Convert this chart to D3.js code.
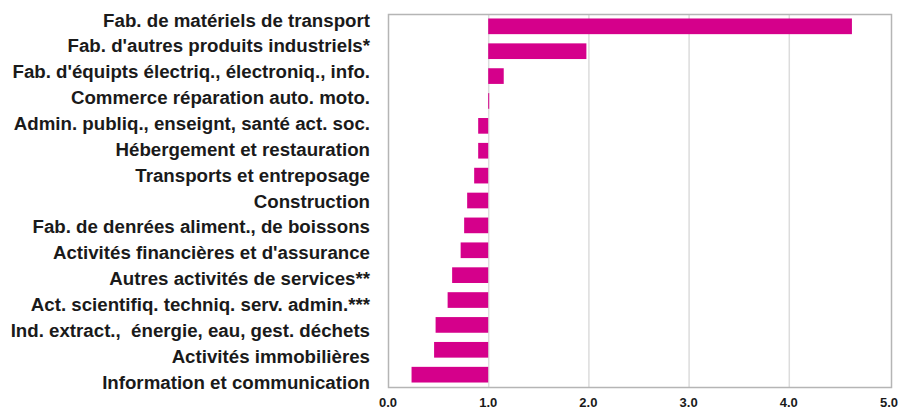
<!DOCTYPE html>
<html>
<head>
<meta charset="utf-8">
<script src="https://cdn.jsdelivr.net/npm/d3@7"></script>
<style>
  body { margin: 0; background: #fff; }
  text { font-family: "Liberation Sans", Arial, sans-serif; font-weight: bold; fill: #1a1a1a; white-space: pre; }
</style>
</head>
<body>
<svg id="chart"></svg>
<script>
let sectors = [
    "Fab. de matériels de transport",
    "Fab. d'autres produits industriels*",
    "Fab. d'équipts électriq., électroniq., info.",
    "Commerce réparation auto. moto.",
    "Admin. publiq., enseignt, santé act. soc.",
    "Hébergement et restauration",
    "Transports et entreposage",
    "Construction",
    "Fab. de denrées aliment., de boissons",
    "Activités financières et d'assurance",
    "Autres activités de services**",
    "Act. scientifiq. techniq. serv. admin.***",
    "Ind. extract.,  énergie, eau, gest. déchets",
    "Activités immobilières",
    "Information et communication"
]
let values = [4.63, 1.98, 1.155, 1.006, 0.90, 0.90, 0.86, 0.79, 0.76, 0.725, 0.64, 0.595, 0.475, 0.46, 0.235]
let ticks = [0, 1, 2, 3, 4, 5]
let baseline = 1.0

function getConfig(){
    let width = 902;
    let height = 409;
    let margin = { top: 14, bottom: 22, left: 388, right: 12 };
    let bodyWidth = width - margin.left - margin.right;
    let bodyHeight = height - margin.top - margin.bottom;
    let container = d3.select("#chart")
        .attr("width", width)
        .attr("height", height);
    return { width, height, margin, bodyWidth, bodyHeight, container };
}

function getScales(config){
    let { bodyWidth, bodyHeight } = config;
    let xScale = d3.scaleLinear()
        .domain([0, 5])
        .range([0, bodyWidth - 1]);
    let yScale = d3.scaleBand()
        .domain(sectors)
        .range([0, bodyHeight])
        .paddingInner(0.37)
        .paddingOuter(0.18);
    // labels sit on their own, slightly wider spacing (baselines)
    let labelScale = d3.scalePoint()
        .domain(sectors)
        .range([12.5, 374.5]);
    return { xScale, yScale, labelScale };
}

function drawChart(config, scales){
    let { margin, bodyWidth, bodyHeight, container } = config;
    let { xScale, yScale, labelScale } = scales;
    let body = container.append("g")
        .attr("transform", "translate(" + margin.left + "," + margin.top + ")");

    // grid
    body.selectAll(".grid").data(ticks.slice(1, -1))
        .enter().append("line")
        .attr("x1", d => xScale(d) + 0.5)
        .attr("x2", d => xScale(d) + 0.5)
        .attr("y1", 0)
        .attr("y2", bodyHeight)
        .attr("stroke", "#dcdcdc")
        .attr("stroke-width", 1.5);

    // bars
    body.selectAll(".bar").data(values)
        .enter().append("rect")
        .attr("x", d => xScale(Math.min(d, baseline)))
        .attr("y", (d, i) => yScale(sectors[i]))
        .attr("width", d => Math.max(1, Math.abs(xScale(d) - xScale(baseline))))
        .attr("height", yScale.bandwidth())
        .attr("fill", "#d5008b");

    // frame
    body.append("rect")
        .attr("x", 0.5)
        .attr("y", 0.5)
        .attr("width", bodyWidth + 1)
        .attr("height", bodyHeight)
        .attr("fill", "none")
        .attr("stroke", "#b5b5b5")
        .attr("stroke-width", 1.5);

    // category labels
    body.selectAll(".label").data(sectors)
        .enter().append("text")
        .attr("x", -18)
        .attr("y", d => labelScale(d))
        .attr("text-anchor", "end")
        .style("font-size", "18.7px")
        .text(d => d);

    // x tick labels
    body.selectAll(".tick").data(ticks)
        .enter().append("text")
        .attr("x", d => xScale(d))
        .attr("y", bodyHeight + 15)
        .attr("dy", "0.36em")
        .attr("text-anchor", "middle")
        .style("font-size", "13px")
        .text(d => d3.format(".1f")(d));
}

let config = getConfig();
let scales = getScales(config);
drawChart(config, scales);
</script>
</body>
</html>
